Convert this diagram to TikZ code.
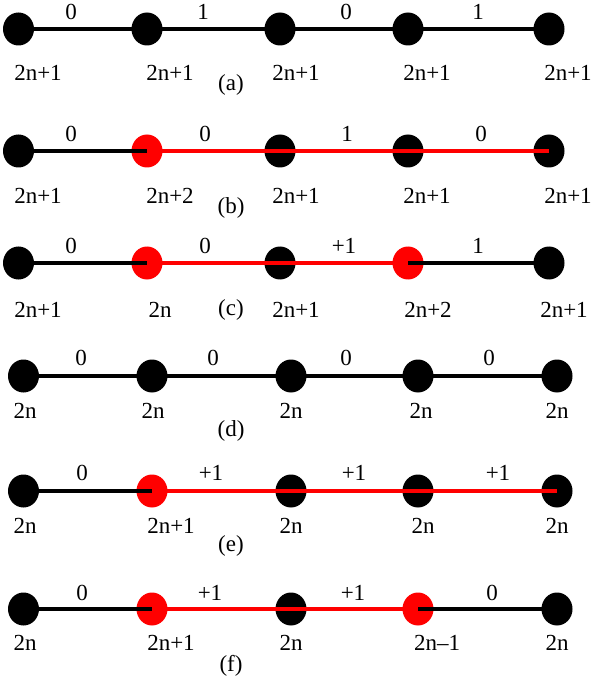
\documentclass[tikz,border=0pt]{standalone}
\usepackage{fontspec}
\setmainfont{Liberation Serif}
\usetikzlibrary{shapes.geometric}
\begin{document}
\begin{tikzpicture}[x=1pt,y=-1pt,
  dot/.style={ellipse,fill=black,minimum width=31pt,minimum height=33pt,inner sep=0pt},
  reddot/.style={dot,fill=red},
  lbl/.style={font=\fontsize{23}{25}\selectfont,inner sep=0pt},
  thickedge/.style={line width=4pt},
  thinedge/.style={line width=3.2pt},
  rededge/.style={red,line width=3.6pt}]
\useasboundingbox (0,0) rectangle (593,684);
% ---------------- row (a)
\node[dot] (a1) at (18.5,29) {};
\node[dot] (a2) at (147,29) {};
\node[dot] (a3) at (280,29) {};
\node[dot] (a4) at (408,29) {};
\node[dot] (a5) at (549,29) {};
\draw[thickedge] (a1.center) -- (a2.center) -- (a3.center) -- (a4.center) -- (a5.center);
\node[lbl] (ae1) at (71,12) {0};
\node[lbl] (ae2) at (203,12) {1};
\node[lbl] (ae3) at (346,12) {0};
\node[lbl] (ae4) at (478,12) {1};
\node[lbl] (av1) at (38,73) {2n+1};
\node[lbl] (av2) at (170,73) {2n+1};
\node[lbl] (av3) at (296,73) {2n+1};
\node[lbl] (av4) at (427,73) {2n+1};
\node[lbl] (av5) at (568,73) {2n+1};
\node[lbl] (acap) at (231,85) {(a)};
% ---------------- row (b)
\node[dot] (b1) at (18.5,151) {};
\node[reddot] (b2) at (147,151) {};
\node[dot] (b3) at (280,151) {};
\node[dot] (b4) at (408,151) {};
\node[dot] (b5) at (549,151) {};
\draw[thickedge] (b1.center) -- (b2.center);
\draw[rededge] (b2.center) -- (b3.center) -- (b4.center) -- (b5.center);
\node[lbl] (be1) at (71,134) {0};
\node[lbl] (be2) at (205,134) {0};
\node[lbl] (be3) at (347,134) {1};
\node[lbl] (be4) at (481,134) {0};
\node[lbl] (bv1) at (38,196) {2n+1};
\node[lbl] (bv2) at (170,196) {2n+2};
\node[lbl] (bv3) at (296,196) {2n+1};
\node[lbl] (bv4) at (427,196) {2n+1};
\node[lbl] (bv5) at (568,196) {2n+1};
\node[lbl] (bcap) at (231,208) {(b)};
% ---------------- row (c)
\node[dot] (c1) at (18.5,263) {};
\node[reddot] (c2) at (147,263) {};
\node[dot] (c3) at (280,263) {};
\node[reddot] (c4) at (408,263) {};
\node[dot] (c5) at (549,263) {};
\draw[thickedge] (c1.center) -- (c2.center);
\draw[rededge] (c2.center) -- (c3.center) -- (c4.center);
\draw[thickedge] (c4.center) -- (c5.center);
\node[lbl] (ce1) at (71,246) {0};
\node[lbl] (ce2) at (205,246) {0};
\node[lbl] (ce3) at (344,246) {+1};
\node[lbl] (ce4) at (478,246) {1};
\node[lbl] (cv1) at (38,310) {2n+1};
\node[lbl] (cv2) at (160,310) {2n};
\node[lbl] (cv3) at (296,310) {2n+1};
\node[lbl] (cv4) at (428,310) {2n+2};
\node[lbl] (cv5) at (564,310) {2n+1};
\node[lbl] (ccap) at (231,310) {(c)};
% ---------------- row (d)
\node[dot] (d1) at (23.5,376) {};
\node[dot] (d2) at (152,376) {};
\node[dot] (d3) at (291,376) {};
\node[dot] (d4) at (418,376) {};
\node[dot] (d5) at (557,376) {};
\draw[thinedge] (d1.center) -- (d2.center) -- (d3.center) -- (d4.center) -- (d5.center);
\node[lbl] (de1) at (81,358) {0};
\node[lbl] (de2) at (213,358) {0};
\node[lbl] (de3) at (346,358) {0};
\node[lbl] (de4) at (489,358) {0};
\node[lbl] (dv1) at (25,411) {2n};
\node[lbl] (dv2) at (153,411) {2n};
\node[lbl] (dv3) at (291,411) {2n};
\node[lbl] (dv4) at (421,411) {2n};
\node[lbl] (dv5) at (557,411) {2n};
\node[lbl] (dcap) at (231,431) {(d)};
% ---------------- row (e)
\node[dot] (e1) at (23.5,491) {};
\node[reddot] (e2) at (152,491) {};
\node[dot] (e3) at (291,491) {};
\node[dot] (e4) at (418,491) {};
\node[dot] (e5) at (557,491) {};
\draw[thinedge] (e1.center) -- (e2.center);
\draw[rededge] (e2.center) -- (e3.center) -- (e4.center) -- (e5.center);
\node[lbl] (ee1) at (82,473) {0};
\node[lbl] (ee2) at (211,473) {+1};
\node[lbl] (ee3) at (354,473) {+1};
\node[lbl] (ee4) at (498,473) {+1};
\node[lbl] (ev1) at (25,526) {2n};
\node[lbl] (ev2) at (171,526) {2n+1};
\node[lbl] (ev3) at (291,526) {2n};
\node[lbl] (ev4) at (423,526) {2n};
\node[lbl] (ev5) at (557,526) {2n};
\node[lbl] (ecap) at (231,546) {(e)};
% ---------------- row (f)
\node[dot] (f1) at (23.5,609) {};
\node[reddot] (f2) at (152,609) {};
\node[dot] (f3) at (291,609) {};
\node[reddot] (f4) at (418,609) {};
\node[dot] (f5) at (557,609) {};
\draw[thinedge] (f1.center) -- (f2.center);
\draw[rededge] (f2.center) -- (f3.center) -- (f4.center);
\draw[thinedge] (f4.center) -- (f5.center);
\node[lbl] (fe1) at (82,593) {0};
\node[lbl] (fe2) at (210,593) {+1};
\node[lbl] (fe3) at (353,593) {+1};
\node[lbl] (fe4) at (492,593) {0};
\node[lbl] (fv1) at (25,643) {2n};
\node[lbl] (fv2) at (171,643) {2n+1};
\node[lbl] (fv3) at (291,643) {2n};
\node[lbl] (fv4) at (437,643) {2n–1};
\node[lbl] (fv5) at (557,643) {2n};
\node[lbl] (fcap) at (231,666) {(f)};
\end{tikzpicture}
\end{document}
